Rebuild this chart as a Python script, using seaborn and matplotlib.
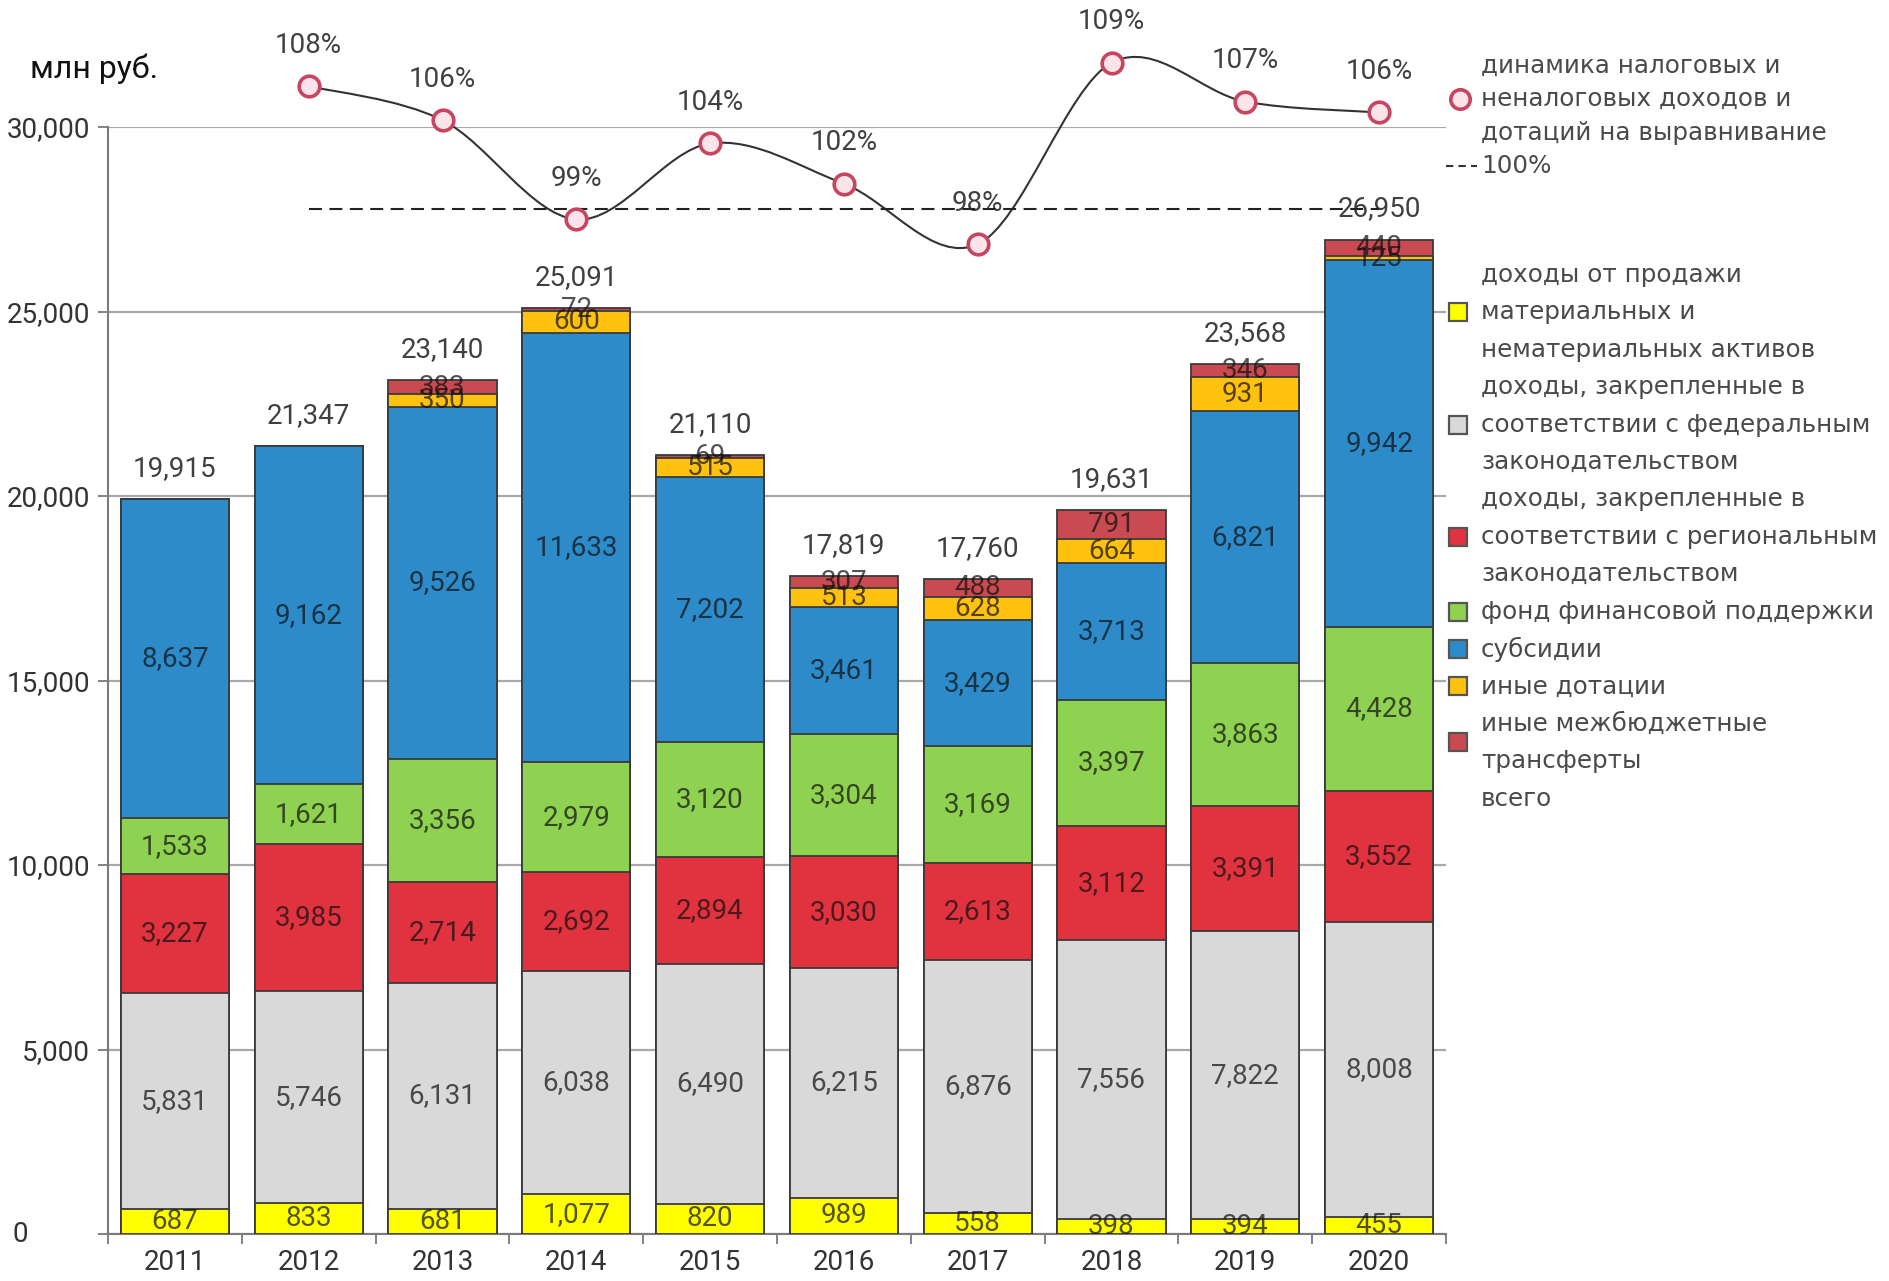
import numpy as np
import matplotlib
matplotlib.use("Agg")
import matplotlib.pyplot as plt
from matplotlib import font_manager as fm
from matplotlib.path import Path
from matplotlib.patches import PathPatch
from matplotlib.lines import Line2D
import seaborn as sns

# ── Data ─────────────────────────────────────────────────────
YEARS = ["2011", "2012", "2013", "2014", "2015",
         "2016", "2017", "2018", "2019", "2020"]
SALE_ASSETS = [687, 833, 681, 1077, 820, 989, 558, 398, 394, 455]
FEDERAL = [5831, 5746, 6131, 6038, 6490, 6215, 6876, 7556, 7822, 8008]
REGIONAL = [3227, 3985, 2714, 2692, 2894, 3030, 2613, 3112, 3391, 3552]
SUPPORT_FUND = [1533, 1621, 3356, 2979, 3120, 3304, 3169, 3397, 3863, 4428]
SUBSIDIES = [8637, 9162, 9526, 11633, 7202, 3461, 3429, 3713, 6821, 9942]
OTHER_GRANTS = [0, 0, 350, 600, 515, 513, 628, 664, 931, 125]
OTHER_TRANSFERS = [0, 0, 383, 72, 69, 307, 488, 791, 346, 440]
TOTALS = [19915, 21347, 23140, 25091, 21110, 17819, 17760, 19631, 23568, 26950]

DYN_YEARS = YEARS[1:]
DYN_PCT = [107.9, 105.7, 99.3, 104.2, 101.6, 97.7, 109.4, 106.9, 106.2]

LAYER_NAMES = [
    "доходы от продажи\nматериальных и\nнематериальных активов",
    "доходы, закрепленные в\nсоответствии с федеральным\nзаконодательством",
    "доходы, закрепленные в\nсоответствии с региональным\nзаконодательством",
    "фонд финансовой поддержки",
    "субсидии",
    "иные дотации",
    "иные межбюджетные\nтрансферты",
]
LINE_NAME = "динамика налоговых и\nненалоговых доходов и\nдотаций на выравнивание"

# ── Palette & fonts ──────────────────────────────────────────
YELLOW = "#ffff00"
GREY = "#d9d9d9"
RED = "#e0323f"
GREEN = "#8fd150"
BLUE = "#2d8bc9"
ORANGE = "#ffc20e"
DARKRED = "#c94a50"
EDGE = "#3a3a3a"
MARK = "#c8455f"
TXT = "#404040"
LAYER_COLORS = [YELLOW, GREY, RED, GREEN, BLUE, ORANGE, DARKRED]


def has_font(name):
    try:
        fm.findfont(fm.FontProperties(family=name), fallback_to_default=False)
        return True
    except Exception:
        return False


NUM_FONT = "Liberation Sans Narrow" if has_font("Liberation Sans Narrow") else "Roboto"
NUM_SIZE = 20

sns.set_theme(style="white")
plt.rcParams["font.family"] = [NUM_FONT, "DejaVu Sans"]

W, H = 1890, 1281
fig = plt.figure(figsize=(W / 100, H / 100), dpi=100)
ax = fig.add_axes([108 / W, 1 - 1234 / H, (1446 - 108) / W, (1234 - 127) / H])

# ── Stacked bars (cumulative overlay, top layer first) ──────
layers = [SALE_ASSETS, FEDERAL, REGIONAL, SUPPORT_FUND,
          SUBSIDIES, OTHER_GRANTS, OTHER_TRANSFERS]
cum = np.cumsum(np.array(layers), axis=0)
for k in range(len(layers) - 1, -1, -1):
    sns.barplot(x=YEARS, y=cum[k], color=LAYER_COLORS[k], saturation=1,
                width=0.81, edgecolor=EDGE, linewidth=1.3, ax=ax, zorder=3)

# segment labels
for k, vals in enumerate(layers):
    base = cum[k] - np.array(vals)
    for i, v in enumerate(vals):
        if v > 0:
            ax.text(i, base[i] + v / 2, f"{v:,}", ha="center", va="center",
                    fontsize=NUM_SIZE, color="#111111", alpha=0.72, zorder=5)

# totals
for i, t in enumerate(TOTALS):
    ax.annotate(f"{t:,}", (i, cum[-1][i]), xytext=(0, 22),
                textcoords="offset points", ha="center", va="center",
                fontsize=NUM_SIZE, color=TXT, zorder=5, annotation_clip=False)

# ── Axes styling ─────────────────────────────────────────────
ax.set_ylim(0, 30000)
ax.set_xlim(-0.5, len(YEARS) - 0.5)
ax.set_xlabel("")
ax.set_ylabel("")
ax.set_axisbelow(True)
ax.yaxis.grid(True, color="#a8a8a8", linewidth=1.6)
ax.xaxis.grid(False)
for s in ["top", "right"]:
    ax.spines[s].set_visible(False)
for s in ["left", "bottom"]:
    ax.spines[s].set_color("#7a7a7a")
    ax.spines[s].set_linewidth(1.5)

yt = list(range(0, 30001, 5000))
ax.set_yticks(yt)
ax.set_yticklabels(["" if v == 0 else f"{v:,}" for v in yt])
ax.tick_params(axis="y", length=7, width=1.3, color="#7a7a7a", pad=6,
               labelsize=NUM_SIZE, labelcolor="#333333", left=True)
ax.set_xticks(range(len(YEARS)))
ax.set_xticklabels(YEARS)
ax.set_xticks(np.arange(-0.5, len(YEARS), 1.0), minor=True)
ax.tick_params(axis="x", which="major", length=0, pad=11,
               labelsize=NUM_SIZE, labelcolor="#333333")
ax.tick_params(axis="x", which="minor", length=7, width=1.3,
               color="#7a7a7a", bottom=True)
fig.text(20 / W, 1 - 1234 / H, "0", ha="center", va="center",
         fontsize=NUM_SIZE, color="#333333")

fig.text(30 / W, 1 - 69 / H, "млн руб.", ha="left", va="center",
         fontsize=23, color="#111111")

# ── Dynamics line on twin scale (100% sits at ~27,790) ──────
ax2 = ax.twinx()
ax2.set_ylim(100 - 27790 / 420, 100 + (30000 - 27790) / 420)
ax2.set_axis_off()

xs = np.array([YEARS.index(y) for y in DYN_YEARS], dtype=float)
ys = np.array(DYN_PCT)
pts = np.column_stack([xs, ys])
verts, codes = [pts[0]], [Path.MOVETO]
n = len(pts)
for i in range(n - 1):
    p0 = pts[i - 1] if i > 0 else pts[i]
    p1, p2 = pts[i], pts[i + 1]
    p3 = pts[i + 2] if i + 2 < n else pts[i + 1]
    verts += [p1 + (p2 - p0) / 6, p2 - (p3 - p1) / 6, p2]
    codes += [Path.CURVE4] * 3
ax2.add_patch(PathPatch(Path(verts, codes), facecolor="none",
                        edgecolor="#333333", linewidth=1.5,
                        clip_on=False, zorder=6))
ax2.plot([xs[0], xs[-1]], [100, 100], color="#222222", linewidth=1.5,
         dashes=(6.2, 3.6), clip_on=False, zorder=6)
sns.scatterplot(x=xs, y=ys, ax=ax2, s=220, color="#fde4ea",
                edgecolor=MARK, linewidth=2.6, clip_on=False, zorder=7,
                legend=False)
for x, p in zip(xs, ys):
    ax2.annotate(f"{p:.0f}%", (x, p), xytext=(0, 29.5),
                 textcoords="offset points", ha="center", va="center",
                 fontsize=NUM_SIZE, color=TXT, annotation_clip=False)

# ── Legend (drawn by hand, figure pixels) ───────────────────
LEG_FONT = dict(family="DejaVu Sans", fontsize=17.7, color="#4a4a4a")


def fx(px):
    return px / W


def fy(py):
    return 1 - py / H


def legend_block(y0, step, entries):
    y = y0
    for label, handle in entries:
        lines = label.split("\n")
        ymid = y + step * (len(lines) - 1) / 2
        for j, line in enumerate(lines):
            fig.text(fx(1481), fy(y + j * step), line, ha="left",
                     va="center", **LEG_FONT)
        if handle is not None:
            handle(ymid)
        y += step * len(lines)


def circle_handle(ym):
    fig.add_artist(Line2D([fx(1460)], [fy(ym)], marker="o", markersize=14,
                          markerfacecolor="#fde4ea", markeredgecolor=MARK,
                          markeredgewidth=2.6, transform=fig.transFigure))


def dash_handle(ym):
    fig.add_artist(Line2D([fx(1446), fx(1477)], [fy(ym), fy(ym)],
                          color="#333333", linewidth=1.5, dashes=(3.5, 2.5),
                          transform=fig.transFigure))


def square_handle(color):
    def draw(ym):
        fig.add_artist(Line2D([fx(1458)], [fy(ym)], marker="s",
                              markersize=13, markerfacecolor=color,
                              markeredgecolor="#555555", markeredgewidth=1.6,
                              transform=fig.transFigure))
    return draw


legend_block(66, 33.4, [(LINE_NAME, circle_handle), ("100%", dash_handle)])
legend_block(275, 37.4,
             [(name, square_handle(c)) for name, c in zip(LAYER_NAMES, LAYER_COLORS)]
             + [("всего", None)])

plt.savefig("out.png", dpi=100, facecolor="white")
plt.close()
